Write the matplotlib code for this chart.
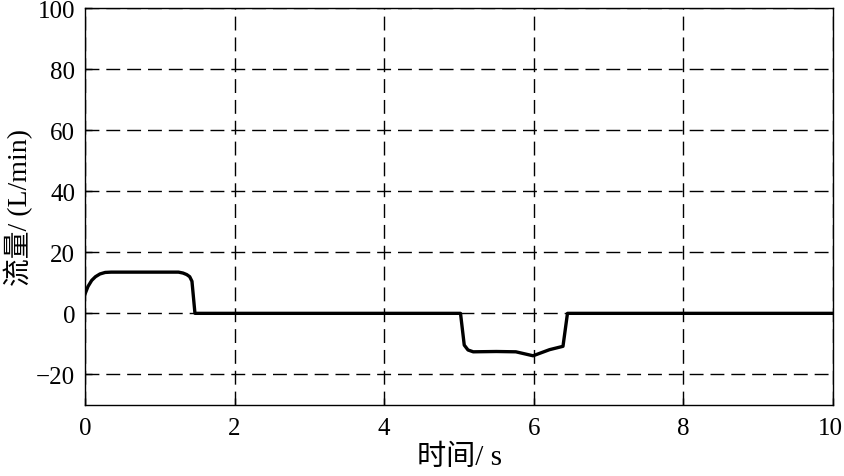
import numpy as np
import matplotlib
matplotlib.use("Agg")
import matplotlib.pyplot as plt
import matplotlib.transforms as mtransforms

plt.rcParams['font.family'] = ['Liberation Serif', 'Noto Sans CJK SC']
plt.rcParams['axes.unicode_minus'] = True

# curve: time (s), flow (L/min)
t = [0.0, 0.04, 0.09, 0.14, 0.2, 0.27, 0.35, 0.5, 1.0, 1.25, 1.31, 1.36, 1.4, 1.43, 1.47,
     2.0, 4.0, 5.02, 5.07, 5.12, 5.19, 5.5, 5.76, 5.99, 6.21, 6.39, 6.45, 8.0, 10.0]
flow = [6.3, 8.8, 10.8, 12.0, 12.9, 13.4, 13.5, 13.5, 13.5, 13.5, 13.2, 12.7, 12.0, 10.5, 0.0,
        0.0, 0.0, 0.0, -10.4, -12.0, -12.6, -12.5, -12.6, -13.9, -11.9, -10.8, 0.0, 0.0, 0.0]

xticks = [0, 2, 4, 6, 8, 10]
yticks = [-20, 0, 20, 40, 60, 80, 100]

fig = plt.figure(figsize=(8.44, 4.77), dpi=100)
ax = fig.add_axes([0.1007, 0.149, 0.8863, 0.832])

ax.plot(t, flow, color='black', lw=2.4, solid_joinstyle='round')

ax.set_xlim(0, 10)
ax.set_ylim(-30, 100)
ax.set_xticks(xticks)
ax.set_yticks(yticks)
ax.grid(True, color='black', lw=1.0, linestyle=(0, (10, 5)))
ax.tick_params(direction='in', length=5, width=1, labelsize=18, colors='black')
ax.tick_params(axis='x', pad=9)
ax.tick_params(axis='y', pad=7)
for s in ax.spines.values():
    s.set_linewidth(1.0)

# nudge the last x label left so it stays inside the figure
last = ax.get_xticklabels()[-1]
last.set_transform(last.get_transform() +
                   mtransforms.ScaledTranslation(-3 / 100, 0, fig.dpi_scale_trans))

ax.set_xlabel('时间/ s', fontsize=21, labelpad=3)
ax.set_ylabel('流量/ (L/min)', fontsize=20, labelpad=2)

fig.savefig('out.png', dpi=100)
